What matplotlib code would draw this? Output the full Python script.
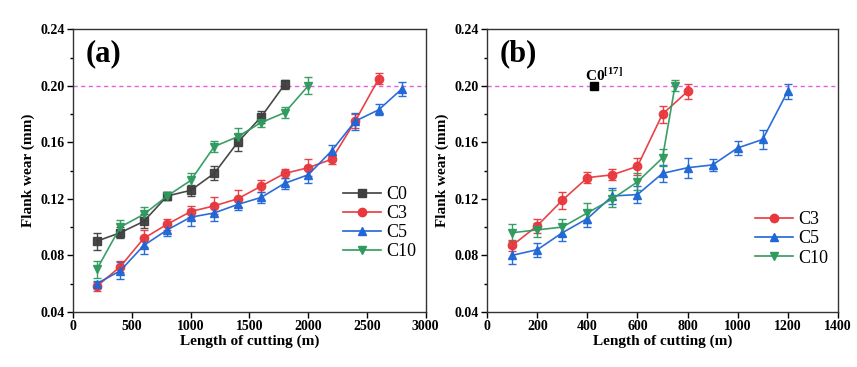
import matplotlib
matplotlib.use("Agg")
import matplotlib.pyplot as plt
from matplotlib.ticker import MultipleLocator, FormatStrFormatter
from matplotlib.lines import Line2D

# ---- data: panel (a) ----
a_c0_x = [200, 400, 600, 800, 1000, 1200, 1400, 1600, 1800]
a_c0_y = [0.090, 0.096, 0.104, 0.122, 0.126, 0.138, 0.160, 0.178, 0.201]
a_c0_e = [0.006, 0.004, 0.005, 0.003, 0.004, 0.005, 0.006, 0.004, 0.003]

a_c3_x = [200, 400, 600, 800, 1000, 1200, 1400, 1600, 1800, 2000, 2200, 2400, 2600]
a_c3_y = [0.058, 0.072, 0.092, 0.102, 0.111, 0.115, 0.120, 0.129, 0.138, 0.142, 0.148, 0.175, 0.205]
a_c3_e = [0.003, 0.004, 0.006, 0.004, 0.004, 0.006, 0.006, 0.004, 0.003, 0.006, 0.003, 0.005, 0.004]

a_c5_x = [200, 400, 600, 800, 1000, 1200, 1400, 1600, 1800, 2000, 2200, 2400, 2600, 2800]
a_c5_y = [0.060, 0.069, 0.087, 0.098, 0.107, 0.110, 0.116, 0.121, 0.131, 0.137, 0.154, 0.175, 0.183, 0.198]
a_c5_e = [0.002, 0.006, 0.006, 0.004, 0.006, 0.006, 0.004, 0.004, 0.004, 0.006, 0.004, 0.006, 0.004, 0.005]

a_c10_x = [200, 400, 600, 800, 1000, 1200, 1400, 1600, 1800, 2000]
a_c10_y = [0.070, 0.100, 0.109, 0.122, 0.133, 0.157, 0.164, 0.174, 0.181, 0.200]
a_c10_e = [0.006, 0.005, 0.005, 0.003, 0.005, 0.004, 0.006, 0.003, 0.004, 0.006]

# ---- data: panel (b) ----
b_c3_x = [100, 200, 300, 400, 500, 600, 700, 800]
b_c3_y = [0.087, 0.101, 0.119, 0.135, 0.137, 0.143, 0.180, 0.196]
b_c3_e = [0.004, 0.005, 0.006, 0.004, 0.004, 0.006, 0.006, 0.005]

b_c5_x = [100, 200, 300, 400, 500, 600, 700, 800, 900, 1000, 1100, 1200]
b_c5_y = [0.080, 0.084, 0.096, 0.106, 0.122, 0.123, 0.138, 0.142, 0.144, 0.156, 0.162, 0.196]
b_c5_e = [0.006, 0.005, 0.006, 0.006, 0.006, 0.006, 0.006, 0.007, 0.004, 0.005, 0.007, 0.005]

b_c10_x = [100, 200, 300, 400, 500, 600, 700, 750]
b_c10_y = [0.096, 0.098, 0.100, 0.110, 0.120, 0.132, 0.149, 0.200]
b_c10_e = [0.006, 0.005, 0.006, 0.007, 0.006, 0.006, 0.006, 0.004]

ref_x = [425]
ref_y = [0.200]
ref_label = "C0$^{\\mathbf{[17]}}$"

limit_y = 0.20

colors = {"C0": "#3f3f3f", "C3": "#e8383d", "C5": "#1f66d6", "C10": "#2f9a5e"}
markers = {"C0": "s", "C3": "o", "C5": "^", "C10": "v"}

plt.rcParams["font.family"] = ["Liberation Serif", "DejaVu Serif"]
plt.rcParams["mathtext.fontset"] = "custom"
plt.rcParams["mathtext.rm"] = "Liberation Serif"
plt.rcParams["mathtext.bf"] = "Liberation Serif:bold"

fig = plt.figure(figsize=(8.57, 3.67), dpi=100)
ax1 = fig.add_axes([0.0855, 0.1504, 0.4112, 0.7697])
ax2 = fig.add_axes([0.5686, 0.1504, 0.4089, 0.7697])


def series(ax, x, y, e, name):
    c = colors[name]
    ax.errorbar(x, y, yerr=e, color=c, marker=markers[name], markersize=6,
                linewidth=1.2, elinewidth=1.0, capsize=3, capthick=1.0, alpha=0.95)


def handle(name):
    return Line2D([], [], color=colors[name], marker=markers[name], markersize=6,
                  linewidth=1.2, label=name)


series(ax1, a_c0_x, a_c0_y, a_c0_e, "C0")
series(ax1, a_c3_x, a_c3_y, a_c3_e, "C3")
series(ax1, a_c5_x, a_c5_y, a_c5_e, "C5")
series(ax1, a_c10_x, a_c10_y, a_c10_e, "C10")

series(ax2, b_c3_x, b_c3_y, b_c3_e, "C3")
series(ax2, b_c5_x, b_c5_y, b_c5_e, "C5")
series(ax2, b_c10_x, b_c10_y, b_c10_e, "C10")
ax2.plot(ref_x, ref_y, marker="s", color="black", markersize=6, linestyle="none", zorder=5)
ax2.annotate(ref_label, (ref_x[0], ref_y[0]), xytext=(-6, 1), textcoords="offset points",
             fontsize=11, fontweight="bold", ha="left", va="bottom")

for ax, xmax, xstep, tag in [(ax1, 3000, 500, "(a)"), (ax2, 1400, 200, "(b)")]:
    ax.axhline(limit_y, color="#e45ee4", linestyle=(0, (3, 2.5)), linewidth=1.0, zorder=0)
    ax.set_xlim(0, xmax)
    ax.set_ylim(0.04, 0.24)
    ax.xaxis.set_major_locator(MultipleLocator(xstep))
    ax.yaxis.set_major_locator(MultipleLocator(0.04))
    ax.yaxis.set_minor_locator(MultipleLocator(0.02))
    ax.yaxis.set_major_formatter(FormatStrFormatter("%.2f"))
    ax.tick_params(axis="both", which="major", direction="out", length=4, width=1,
                   labelsize=10, pad=2)
    ax.tick_params(axis="y", which="minor", direction="out", length=2.5, width=1)
    ax.set_xlabel("Length of cutting (m)", fontsize=11, fontweight="bold", labelpad=1)
    ax.set_ylabel("Flank wear (mm)", fontsize=11, fontweight="bold", labelpad=4)
    for sp in ax.spines.values():
        sp.set_color("#333333")
        sp.set_linewidth(1.0)
    ax.text(0.035, 0.965, tag, transform=ax.transAxes, fontsize=22, fontweight="bold",
            ha="left", va="top")

fig.canvas.draw()
for ax in (ax1, ax2):
    for lbl in ax.get_xticklabels() + ax.get_yticklabels():
        lbl.set_fontweight("bold")

leg_kw = dict(frameon=False, fontsize=13, handlelength=2.1, handletextpad=0.3,
              labelspacing=0.12, borderaxespad=0.1)
ax1.legend(handles=[handle(n) for n in ["C0", "C3", "C5", "C10"]],
           loc="center right", bbox_to_anchor=(1.0, 0.314), **leg_kw)
ax2.legend(handles=[handle(n) for n in ["C3", "C5", "C10"]],
           loc="center right", bbox_to_anchor=(1.0, 0.258), **leg_kw)

fig.savefig("out.png", dpi=100)
